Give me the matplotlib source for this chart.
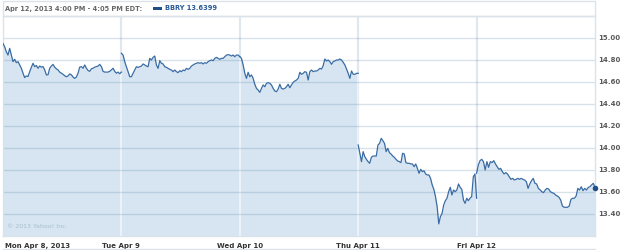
"""
# BBRY intraday chart, Apr 8 - Apr 12 2013 (Yahoo style)
"""

### Packages
import numpy as np
import matplotlib.pyplot as plt

### Data
day_labels = ["Mon Apr 8, 2013", "Tue Apr 9", "Wed Apr 10", "Thu Apr 11", "Fri Apr 12"]
y_ticks = [13.40, 13.60, 13.80, 14.00, 14.20, 14.40, 14.60, 14.80, 15.00]

mon = [14.95, 14.92, 14.875, 14.845, 14.906, 14.845, 14.785, 14.806, 14.776, 14.785,
       14.755, 14.725, 14.68, 14.64, 14.655, 14.65, 14.694, 14.733, 14.77, 14.74,
       14.75, 14.725, 14.745, 14.735, 14.74, 14.71, 14.665, 14.665, 14.725, 14.745,
       14.76, 14.735, 14.72, 14.71, 14.69, 14.68, 14.67, 14.657, 14.648, 14.655,
       14.673, 14.665, 14.645, 14.633, 14.645, 14.68, 14.735, 14.74, 14.725, 14.755,
       14.725, 14.705, 14.697, 14.72, 14.725, 14.735, 14.74, 14.745, 14.76, 14.74,
       14.697, 14.69, 14.69, 14.69, 14.697, 14.71, 14.725, 14.697, 14.68, 14.69,
       14.675, 14.69]
tue = [14.861, 14.845, 14.785, 14.739, 14.694, 14.648, 14.648, 14.679, 14.709, 14.739,
       14.733, 14.739, 14.745, 14.764, 14.755, 14.745, 14.739, 14.815, 14.80, 14.824,
       14.836, 14.755, 14.724, 14.794, 14.77, 14.764, 14.739, 14.733, 14.724, 14.715,
       14.709, 14.694, 14.709, 14.694, 14.685, 14.703, 14.694, 14.709, 14.703, 14.724,
       14.715, 14.724, 14.745, 14.755, 14.764, 14.77, 14.776, 14.77, 14.776, 14.764,
       14.776, 14.77, 14.785, 14.794, 14.80, 14.794, 14.815, 14.824, 14.815, 14.806,
       14.815, 14.815, 14.83, 14.845, 14.848, 14.845, 14.836, 14.845, 14.83, 14.845,
       14.845, 14.83]
wed = [14.83, 14.815, 14.755, 14.679, 14.633, 14.688, 14.648, 14.664, 14.633, 14.579,
       14.542, 14.527, 14.506, 14.542, 14.573, 14.557, 14.588, 14.594, 14.588, 14.573,
       14.542, 14.518, 14.512, 14.536, 14.579, 14.542, 14.536, 14.542, 14.557, 14.579,
       14.548, 14.573, 14.597, 14.609, 14.618, 14.633, 14.688, 14.67, 14.679, 14.694,
       14.688, 14.618, 14.694, 14.709, 14.694, 14.70, 14.70, 14.709, 14.724, 14.718,
       14.748, 14.809, 14.791, 14.80, 14.785, 14.761, 14.785, 14.791, 14.80, 14.80,
       14.809, 14.80, 14.779, 14.755, 14.718, 14.679, 14.633, 14.70, 14.67, 14.67,
       14.679, 14.679]
thu = [14.027, 13.952, 13.876, 13.967, 13.921, 13.897, 13.876, 13.861, 13.915, 13.927,
       13.927, 13.927, 14.027, 14.042, 14.088, 14.066, 14.042, 13.967, 13.997, 13.958,
       13.945, 13.927, 13.915, 13.897, 13.882, 13.876, 13.867, 13.952, 13.945, 13.867,
       13.861, 13.861, 13.855, 13.855, 13.83, 13.855, 13.815, 13.77, 13.806, 13.785,
       13.794, 13.764, 13.755, 13.755, 13.724, 13.664, 13.624, 13.558, 13.467, 13.31,
       13.376, 13.406, 13.482, 13.521, 13.543, 13.603, 13.643, 13.573, 13.618, 13.603,
       13.618, 13.673, 13.643, 13.624, 13.527, 13.497, 13.543, 13.521, 13.543, 13.558,
       13.739, 13.764, 13.543]
fri = [13.77, 13.845, 13.885, 13.897, 13.876, 13.80, 13.876, 13.824, 13.876, 13.867,
       13.885, 13.855, 13.83, 13.806, 13.815, 13.785, 13.764, 13.776, 13.764, 13.739,
       13.715, 13.724, 13.709, 13.715, 13.724, 13.715, 13.724, 13.715, 13.709, 13.694,
       13.633, 13.673, 13.703, 13.724, 13.679, 13.673, 13.633, 13.62, 13.603, 13.594,
       13.618, 13.633, 13.627, 13.603, 13.594, 13.588, 13.573, 13.564, 13.552, 13.527,
       13.473, 13.461, 13.461, 13.461, 13.473, 13.533, 13.543, 13.543, 13.564, 13.633,
       13.618, 13.648, 13.612, 13.633, 13.618, 13.64, 13.648, 13.664, 13.679, 13.6399]
days = [mon, tue, wed, thu, fri]
last_price = 13.6399

### Styles
W, H = 625, 250
fill_color = "#d6e5f1"
line_color = "#3a6ca4"
grid_v = "#bccbda"
text_gray = "#5a5a5a"

fig = plt.figure(figsize=(W / 100, H / 100), dpi=100)
# plot area in pixels: x 3..595, y 16..236
ax = fig.add_axes([3 / W, (H - 236) / H, 592 / W, 220 / H])
ax.set_xlim(0, 5)
ax.set_ylim(13.2, 15.2)

# x positions for each day's trading session
xs = [np.linspace(i, i + 1, len(d)) for i, d in enumerate(days)]
x_all = np.concatenate(xs)
y_all = np.concatenate(days)

# day lines: gray-blue on white, lighter on the fill
for i in range(1, 5):
    ax.axvline(i, color=grid_v, lw=1.5, zorder=0)
ax.fill_between(x_all, 13.2, y_all, color=fill_color, lw=0, zorder=1)
for i in range(1, 5):
    ax.axvline(i, color="white", alpha=0.55, lw=1.5, zorder=2)

# horizontal grid lines
for t in y_ticks:
    ax.axhline(t, color="#3f6f9f", alpha=0.2, lw=1, zorder=2)

for x, d in zip(xs, days):
    ax.plot(x, d, color=line_color, lw=0.9, zorder=3)
ax.plot(5, last_price, "o", color="#1f4f86", ms=3, zorder=4, clip_on=False)

ax.set_xticks([])
ax.set_yticks([])
for s in ax.spines.values():
    s.set_color("#dbe2ea")
    s.set_linewidth(1)

# y tick labels on the right
for t in y_ticks:
    ax.text(1.005, (t - 13.2) / 2.0, f"{t:.2f}", transform=ax.transAxes,
            ha="left", va="center", fontsize=5, fontweight="bold", color=text_gray)

# x labels
for i, lab in enumerate(day_labels):
    ha = "left" if i == 0 else "center"
    xpos = 0.004 if i == 0 else i / 5
    ax.text(xpos, -0.03, lab, transform=ax.transAxes, ha=ha, va="top",
            fontsize=5, fontweight="bold", color="#333333")
fig.add_artist(plt.Line2D([3 / W, 595 / W], [1 - 249 / H] * 2, color="#dbe2ea", lw=1))

ax.text(0.006, 0.03, "© 2013 Yahoo! Inc.", transform=ax.transAxes, ha="left", va="bottom",
        fontsize=4.5, color="#a9bccd")

# header box
fig.add_artist(plt.Rectangle((3 / W, 1 - 16 / H), 592 / W, 15 / H, fill=False,
                             edgecolor="#dbe2ea", lw=1))
fig.text(5 / W, 1 - 8.5 / H, "Apr 12, 2013 4:00 PM - 4:05 PM EDT:", ha="left", va="center",
         fontsize=4.8, fontweight="bold", color="#666666")
fig.add_artist(plt.Rectangle((153 / W, 1 - 10 / H), 9 / W, 3 / H, color="#1f4f86", lw=0))
fig.text(165 / W, 1 - 8.5 / H, f"BBRY {last_price}", ha="left", va="center",
         fontsize=4.8, fontweight="bold", color="#2a5a96")

plt.savefig("out.png", dpi=100)
